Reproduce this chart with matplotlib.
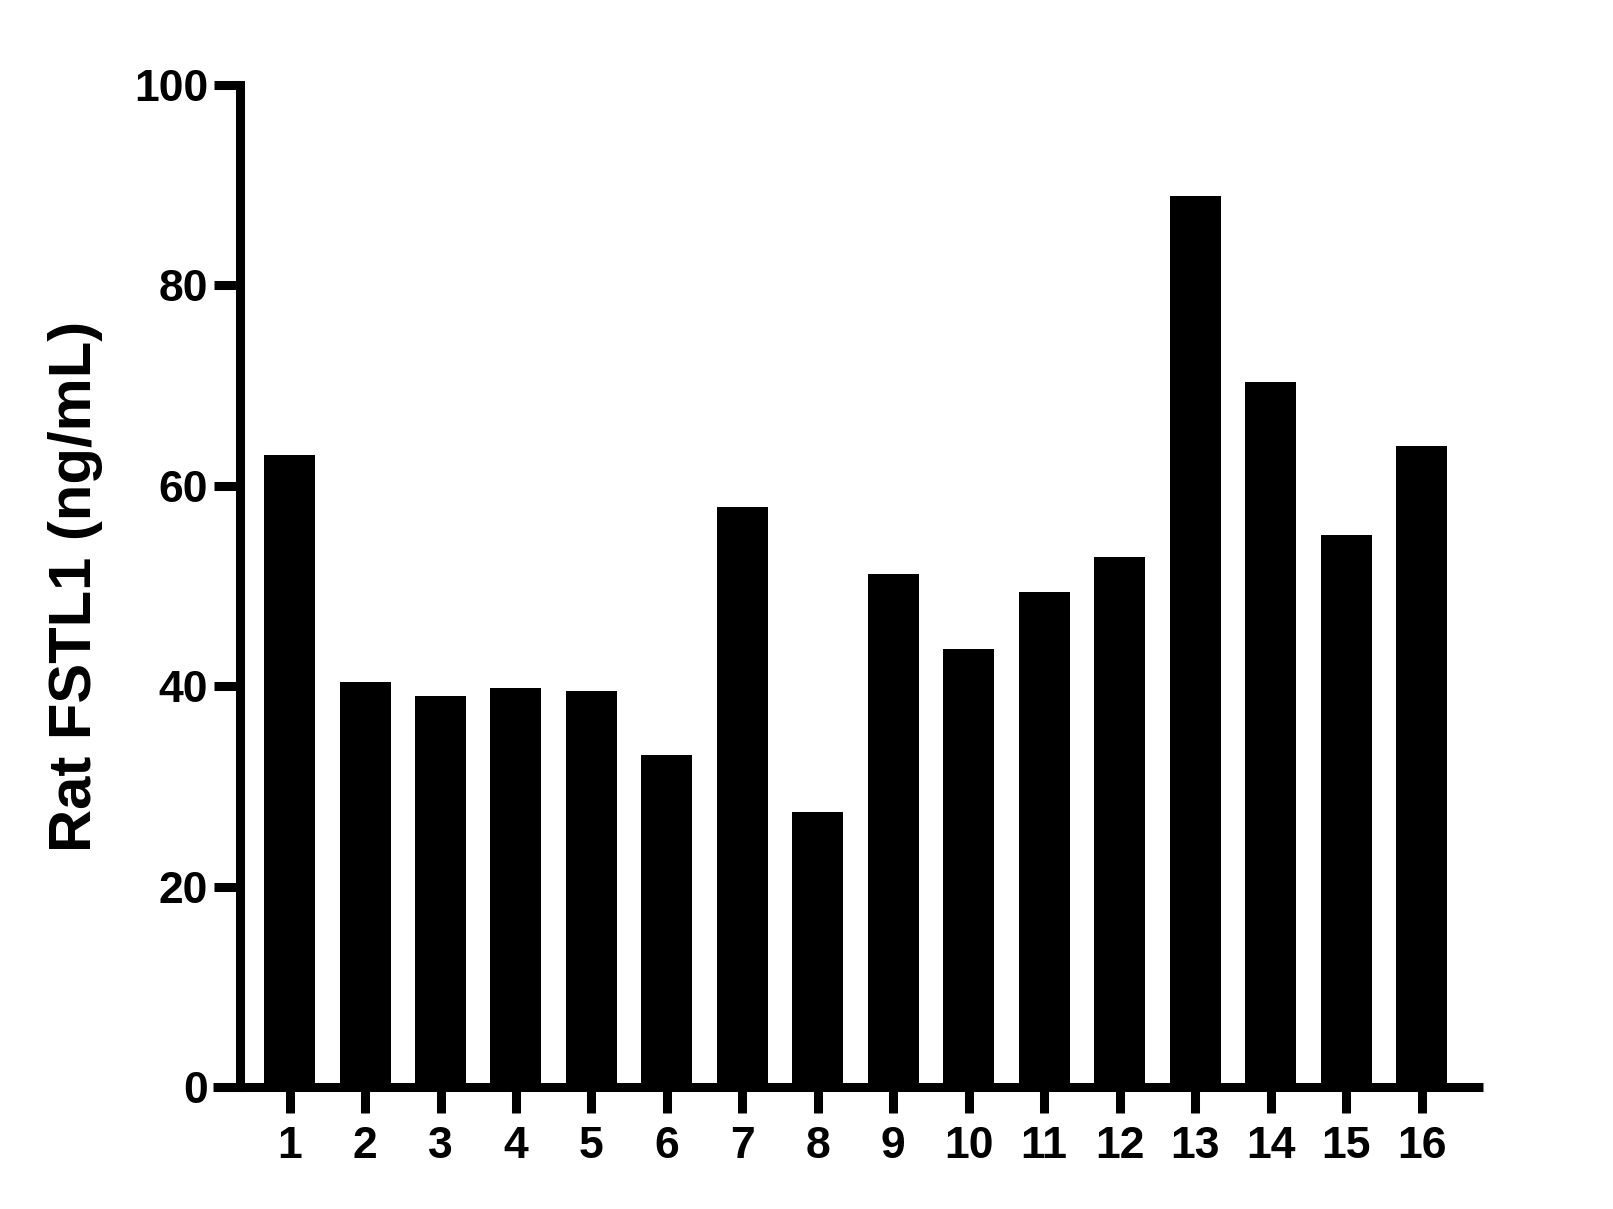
import matplotlib.pyplot as plt

samples = [str(i) for i in range(1, 17)]
fstl1 = [63.1, 40.4, 39.0, 39.8, 39.5, 33.2, 57.9, 27.5,
         51.2, 43.7, 49.4, 52.9, 88.9, 70.3, 55.1, 64.0]

plt.rcParams['font.family'] = ['Liberation Sans', 'DejaVu Sans']
plt.rcParams['font.weight'] = 'bold'

fig = plt.figure(figsize=(16.13, 12.09), dpi=100)
ax = fig.add_axes([0.1321, 0.1005, 0.7873, 0.8296])

pos = list(range(1, len(samples) + 1))
ax.bar(pos, fstl1, width=0.676, color='black', edgecolor='none', zorder=1)

# axis layout like a GraphPad plot: x line sticks out left of the y line
ax.set_xlim(-0.0137, 16.814)
ax.set_ylim(0, 100)
ax.spines['top'].set_visible(False)
ax.spines['right'].set_visible(False)
ax.spines['left'].set_position(('data', 0.3375))
ax.spines['left'].set_bounds(0, 100)
for s in ['left', 'bottom']:
    ax.spines[s].set_linewidth(6.5)
    ax.spines[s].set_zorder(3)
ax.spines['left'].set_capstyle('projecting')
ax.spines['bottom'].set_capstyle('butt')

ax.set_xticks(pos)
ax.set_xticklabels(samples)
ax.set_yticks([0, 20, 40, 60, 80, 100])
ax.tick_params(axis='x', length=19, width=6.5, pad=9, labelsize=32, direction='out')
ax.tick_params(axis='y', length=18.7, width=6.5, pad=4, labelsize=32, direction='out')

ax.set_ylabel('Rat FSTL1 (ng/mL)', fontsize=43, fontweight='bold')
ax.yaxis.set_label_coords(-0.087, 0.5)

fig.savefig('out.png', dpi=100)
